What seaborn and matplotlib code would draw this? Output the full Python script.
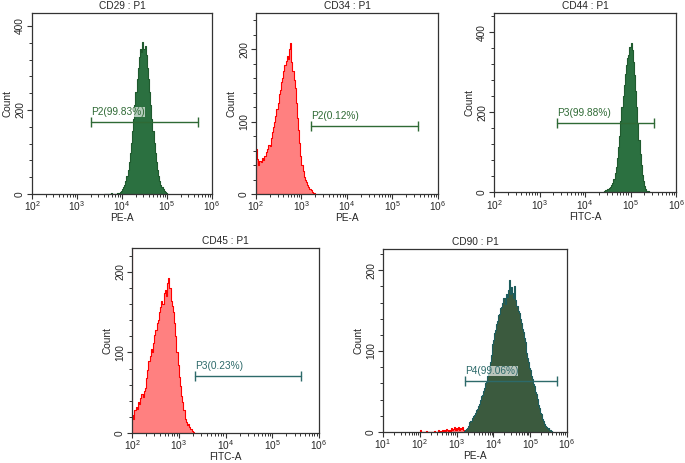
import numpy as np
import pandas as pd
import seaborn as sns
import matplotlib.pyplot as plt
from matplotlib.ticker import FixedLocator, MultipleLocator, FuncFormatter

# --- histogram data: counts per bin, bins 0.025 decade wide (log10 of fluorescence) ---
BIN = 0.025

cd29_start = 3.60
cd29_counts = [0, 1, 0, 0, 1, 0, 2, 0, 1, 1,
               1, 1, 2, 3, 5, 7, 11, 16, 22, 31, 43, 57, 75, 97, 122, 149, 179, 211,
               243, 273, 301, 325, 346, 338, 362, 345, 352, 330, 301, 273, 243, 211,
               179, 149, 122, 97, 75, 57, 43, 31, 22, 16, 11, 7, 5, 3, 1]

cd34_start = 2.0
cd34_counts = [62, 48, 40, 46, 44, 50, 47, 53, 52, 58, 62, 68, 66, 78, 85, 92, 100,
               108, 118, 126, 138, 144, 155, 160, 170, 178, 184, 190, 186, 200, 208,
               182, 170, 158, 146, 125, 105, 88, 70, 52, 40, 32, 24, 20, 16, 12, 10,
               7, 5, 3, 2, 1]

cd44_start = 4.40
cd44_counts = [1, 3, 5, 7, 9, 11, 14, 18, 24, 34, 48, 62, 86, 112, 140, 178, 212,
               240, 268, 295, 318, 335, 342, 362, 372, 355, 326, 292, 252, 212, 172,
               130, 96, 68, 44, 28, 16, 9, 4, 2, 0]

cd45_start = 1.975
cd45_counts = [500, 22, 18, 28, 32, 30, 38, 36, 44, 48, 45, 52, 56, 68, 78, 90, 96,
               104, 100, 112, 122, 128, 136, 140, 150, 156, 164, 160, 174, 178, 170,
               186, 192, 180, 164, 158, 150, 136, 120, 100, 84, 70, 58, 46, 38, 28,
               18, 14, 10, 11, 8, 5, 2, 1]

cd90_start = 3.20
cd90_counts = [1, 2, 4, 5, 8, 9, 12, 13, 14, 17, 20, 21, 23, 27, 28, 32, 35, 36, 40,
               45, 46, 51, 54, 60, 62, 69, 73, 81, 87, 95, 101, 109, 114, 122, 126,
               134, 137, 144, 146, 153, 154, 159, 160, 165, 166, 158, 171, 167, 176,
               188, 170, 179, 172, 166, 181, 165, 163, 156, 156, 149, 147, 139, 135,
               127, 123, 116, 111, 103, 98, 91, 87, 79, 76, 69, 66, 59, 57, 50, 47,
               41, 39, 33, 30, 24, 22, 16, 14, 10, 8, 6, 5, 4, 5, 3, 2, 1, 0]

cd90_low_start = 2.0
cd90_low_counts = [2, 0, 0, 0, 0, 0, 0, 1, 0, 0, 0, 0, 0, 0, 0, 1, 0, 0, 0, 0, 2, 0,
                   1, 0, 3, 0, 2, 1, 0, 4, 2, 0, 3, 1, 5, 2, 4, 6, 3, 5, 2, 4, 6, 3,
                   5, 4, 6, 3]

# panel texts and gates
titles = ["CD29 : P1", "CD34 : P1", "CD44 : P1", "CD45 : P1", "CD90 : P1"]
xlabels = ["PE-A", "PE-A", "FITC-A", "FITC-A", "PE-A"]
starts = [cd29_start, cd34_start, cd44_start, cd45_start, cd90_start]
counts = [cd29_counts, cd34_counts, cd44_counts, cd45_counts, cd90_counts]
gate_labels = ["P2(99.83%)", "P2(0.12%)", "P3(99.88%)", "P3(0.23%)", "P4(99.06%)"]
gate_lo = [3.31, 3.22, 3.38, 3.34, 3.23]
gate_hi = [5.69, 5.56, 5.52, 5.61, 5.72]
gate_y = [172, 94, 174, 71, 63]
y_max = [431, 250, 448, 230, 226]
y_major = [200, 100, 200, 100, 100]
x_min = [2, 2, 2, 2, 1]

fills = ["#2b7040", "#ff8080", "#2b7040", "#ff8080", "#3b5a3e"]
edges = ["#1f5a2e", "#ff0000", "#1f5a2e", "#ff0000", "#1d5c5c"]
gate_colors = ["#2f6a35", "#2f6a35", "#2f6a35", "#2d6a6a", "#2d6a6a"]

sns.set_style("ticks")
plt.rcParams["font.family"] = ["Liberation Sans", "DejaVu Sans"]
plt.rcParams["mathtext.fontset"] = "custom"
plt.rcParams["mathtext.rm"] = "Liberation Sans"
plt.rcParams["mathtext.it"] = "Liberation Sans"

fig = plt.figure(figsize=(6.85, 4.63), dpi=100)
positions = [
    [0.0467, 0.581, 0.2628, 0.391],
    [0.3737, 0.581, 0.2657, 0.391],
    [0.7212, 0.585, 0.2657, 0.387],
    [0.1927, 0.0648, 0.2730, 0.400],
    [0.5591, 0.0670, 0.2686, 0.395],
]


def draw_hist(ax, start, cts, fill, edge):
    cts = np.asarray(cts, dtype=float)
    bin_edges = start + BIN * np.arange(len(cts) + 1)
    df = pd.DataFrame({"x": bin_edges[:-1] + BIN / 2, "n": cts})
    sns.histplot(data=df, x="x", weights="n", bins=list(bin_edges), element="step",
                 fill=True, color=fill, alpha=1, edgecolor=edge, linewidth=0.8, ax=ax)


def decade_label(v, pos):
    return r"$10^{%d}$" % int(round(v))


for i in range(5):
    ax = fig.add_axes(positions[i])
    if i == 4:
        draw_hist(ax, cd90_low_start, cd90_low_counts, "#ff8080", "#ff0000")
    draw_hist(ax, starts[i], counts[i], fills[i], edges[i])

    ax.set_xlim(x_min[i], 6)
    ax.set_ylim(0, y_max[i])

    # gate bar
    ax.plot([gate_lo[i], gate_hi[i]], [gate_y[i], gate_y[i]], color=gate_colors[i],
            lw=1, marker="|", markersize=7, mew=1)
    ax.annotate(gate_labels[i], (gate_lo[i], gate_y[i]), xytext=(0, 3.5),
                textcoords="offset points", ha="left", va="bottom", fontsize=7.3,
                color=gate_colors[i],
                bbox=dict(boxstyle="square,pad=0", fc="white", ec="none", alpha=0.65))

    # log-like x axis
    decades = np.arange(x_min[i], 7)
    ax.xaxis.set_major_locator(FixedLocator(decades))
    ax.xaxis.set_major_formatter(FuncFormatter(decade_label))
    minors = [d + np.log10(k) for d in decades[:-1] for k in range(2, 10)]
    ax.xaxis.set_minor_locator(FixedLocator(minors))

    ax.yaxis.set_major_locator(MultipleLocator(y_major[i]))
    ax.yaxis.set_minor_locator(MultipleLocator(y_major[i] / 5))
    for lab in ax.get_yticklabels():
        lab.set_rotation(90)
        lab.set_va("center")

    ax.tick_params(which="major", length=3.5, width=0.8, labelsize=7.3, pad=1.5,
                   color="#333333")
    ax.tick_params(axis="x", which="major", pad=0.5)
    ax.tick_params(which="minor", length=2.5, width=0.7, color="#333333")
    for s in ax.spines.values():
        s.set_visible(True)
        s.set_color("#333333")
        s.set_linewidth(0.9)

    ax.set_title(titles[i], fontsize=7.3, pad=3)
    ax.set_xlabel(xlabels[i], fontsize=7.3, labelpad=0)
    ax.set_ylabel("Count", fontsize=7.3, labelpad=2)

fig.savefig("out.png", dpi=100)
